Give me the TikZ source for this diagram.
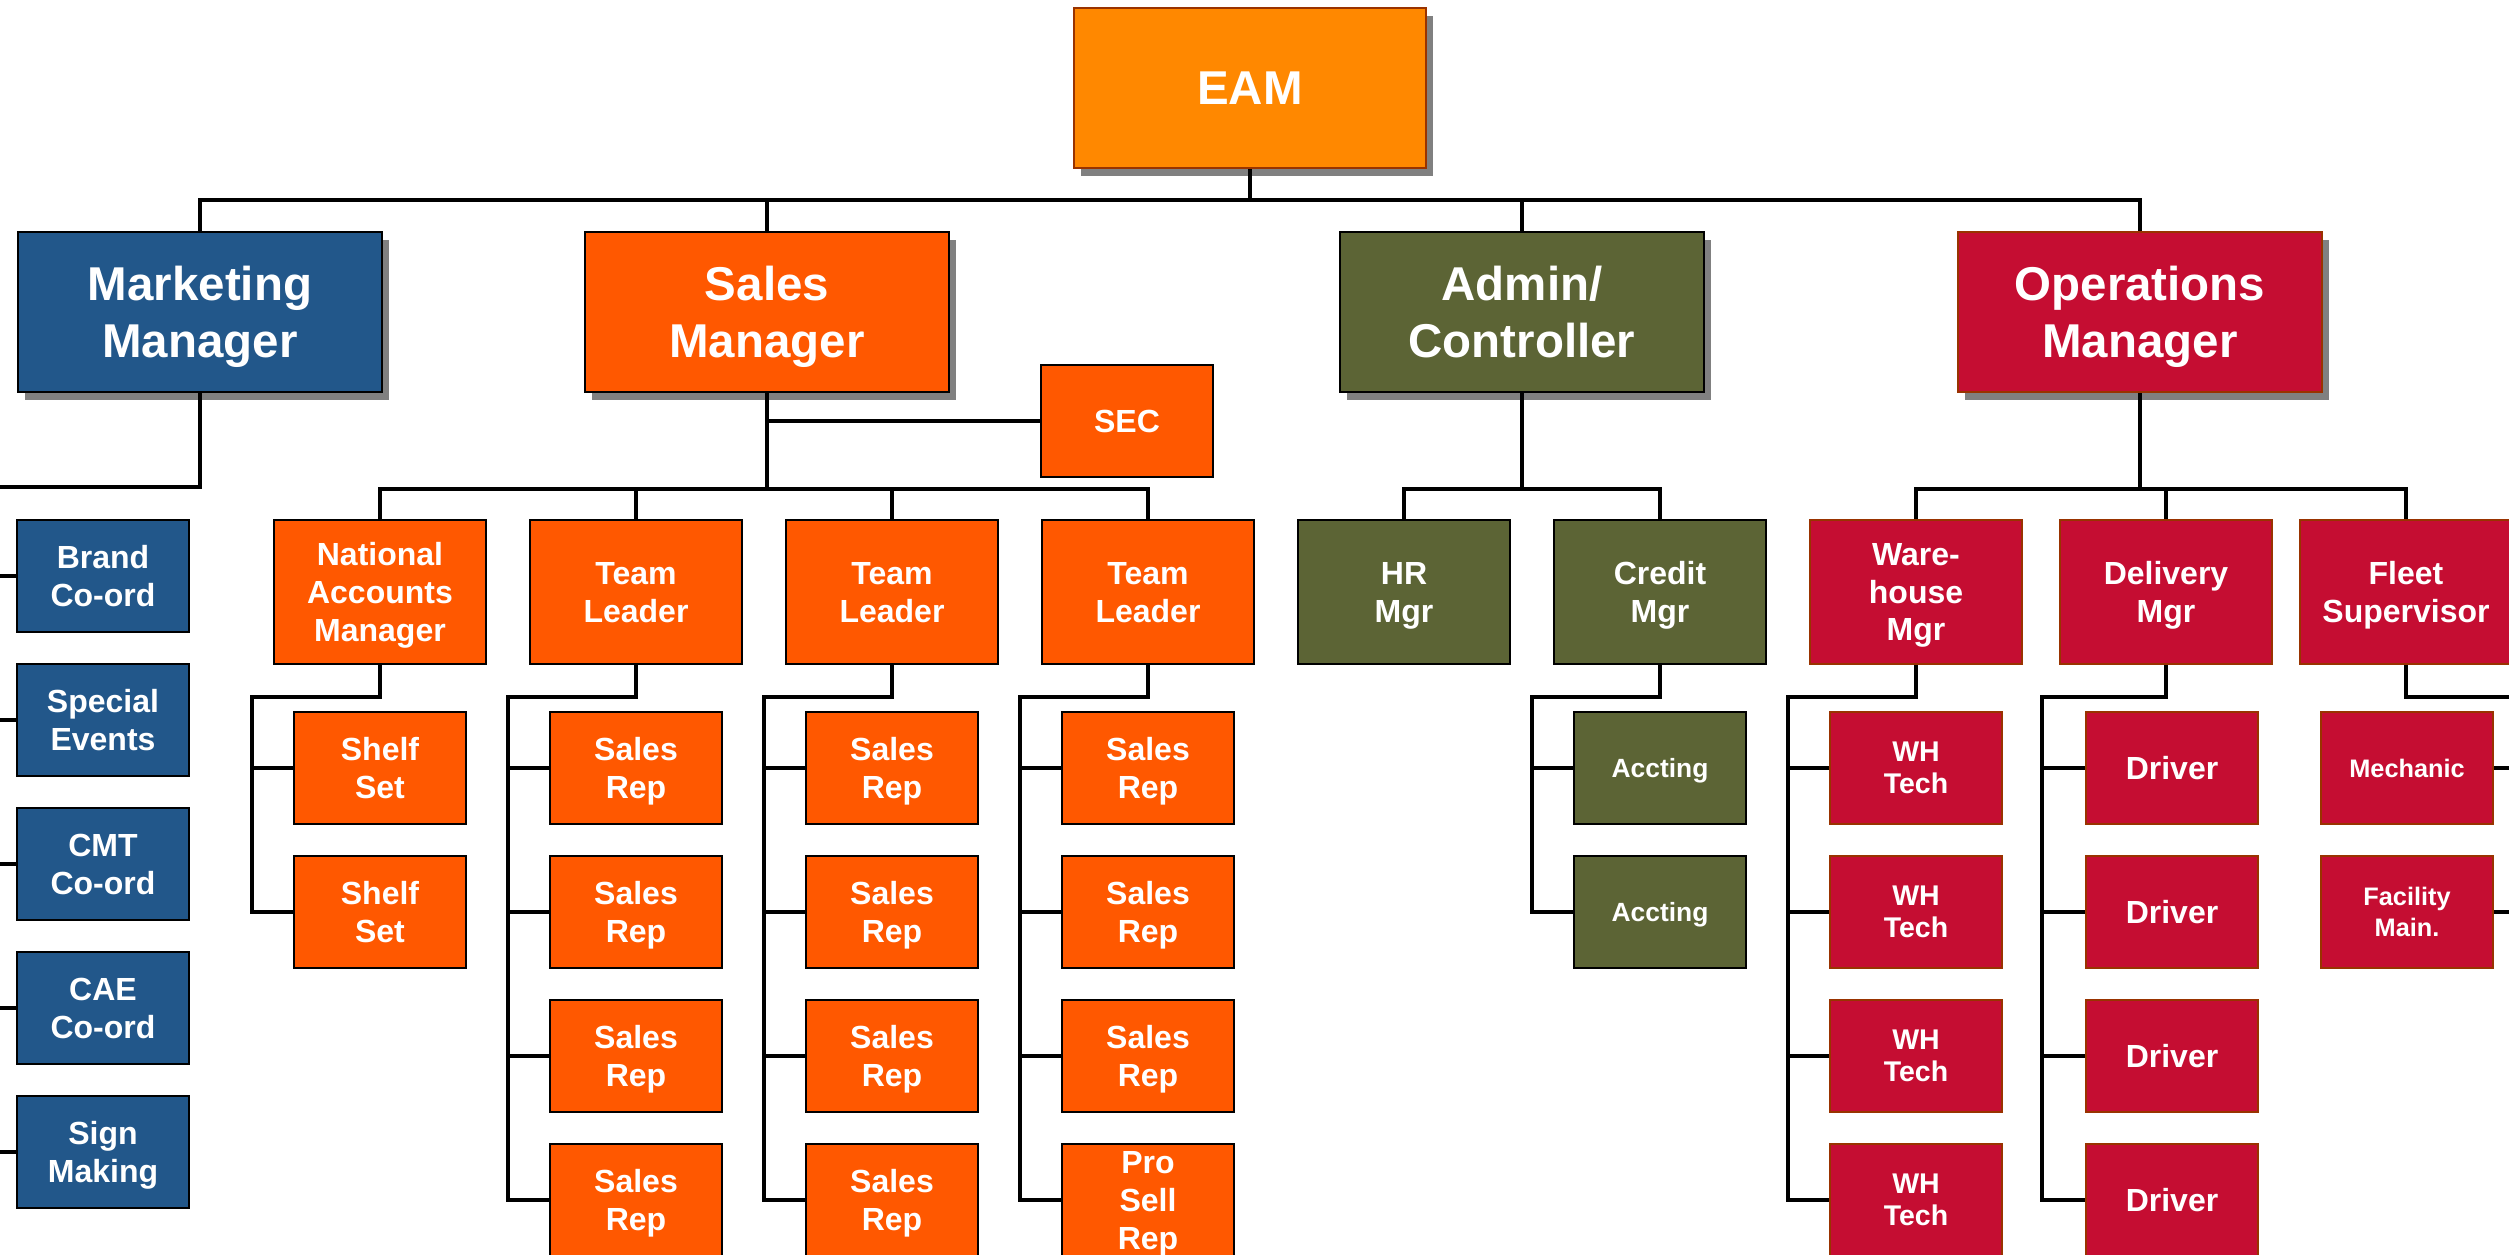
\documentclass[tikz,border=0pt]{standalone}
\usepackage{fontspec}
\setmainfont{Liberation Sans}
\usetikzlibrary{shadows}
\definecolor{eamorange}{HTML}{FF8800}
\definecolor{eamedge}{HTML}{993300}
\definecolor{mktblue}{HTML}{22578A}
\definecolor{salesorange}{HTML}{FF5800}
\definecolor{adminolive}{HTML}{5C6435}
\definecolor{opsred}{HTML}{C50D32}
\definecolor{shadowgray}{HTML}{808080}
\tikzset{
  box/.style={draw=black, line width=0.55pt, text=white, align=center, inner sep=0pt, text depth=0pt},
  topbox/.style={box, minimum width=3.52cm, minimum height=1.6cm,
    font=\fontsize{13.5}{16.2}\selectfont\bfseries,
    drop shadow={shadow xshift=0.07cm, shadow yshift=-0.08cm, fill=shadowgray, opacity=1}},
  headbox/.style={topbox, minimum width=3.63cm},
  midbox/.style={box, minimum width=2.12cm, minimum height=1.44cm, font=\fontsize{9.1}{10.8}\selectfont\bfseries},
  smallbox/.style={box, minimum width=1.72cm, minimum height=1.12cm, font=\fontsize{9.1}{10.8}\selectfont\bfseries},
  opsbox/.style={fill=opsred, draw=eamedge},
  link/.style={line width=0.95pt},
}

\begin{document}
\begin{tikzpicture}[x=0.01cm, y=-0.01cm]
    \useasboundingbox (0,0) rectangle (2509,1254);
    \clip (0,0) rectangle (2509,1254);
    % Top
    \node[topbox, fill=eamorange, draw=eamedge] (eam) at (1250,88) {EAM};
    % Managers
    \node[headbox, fill=mktblue] (mkt) at (200,312) {Marketing\\Manager};
    \node[headbox, fill=salesorange] (sales) at (767,312) {Sales\\Manager};
    \node[headbox, fill=adminolive] (admin) at (1522,312) {Admin/\\Controller};
    \node[headbox, opsbox] (ops) at (2140,312) {Operations\\Manager};
    \node[smallbox, fill=salesorange] (sec) at (1127,421) {SEC};
    % Second level
    \node[midbox, fill=salesorange] (nam) at (380,592) {National\\Accounts\\Manager};
    \node[midbox, fill=salesorange] (tl1) at (636,592) {Team\\Leader};
    \node[midbox, fill=salesorange] (tl2) at (892,592) {Team\\Leader};
    \node[midbox, fill=salesorange] (tl3) at (1148,592) {Team\\Leader};
    \node[midbox, fill=adminolive] (hr) at (1404,592) {HR\\Mgr};
    \node[midbox, fill=adminolive] (credit) at (1660,592) {Credit\\Mgr};
    \node[midbox, opsbox] (wh) at (1916,592) {Ware-\\house\\Mgr};
    \node[midbox, opsbox] (dlv) at (2166,592) {Delivery\\Mgr};
    \node[midbox, opsbox] (fleet) at (2406,592) {Fleet\\Supervisor};
    % Marketing staff
    \node[smallbox, fill=mktblue] (brand) at (103,576) {Brand\\Co-ord};
    \node[smallbox, fill=mktblue] (special) at (103,720) {Special\\Events};
    \node[smallbox, fill=mktblue] (cmt) at (103,864) {CMT\\Co-ord};
    \node[smallbox, fill=mktblue] (cae) at (103,1008) {CAE\\Co-ord};
    \node[smallbox, fill=mktblue] (sign) at (103,1152) {Sign\\Making};
    % Sales staff
    \node[smallbox, fill=salesorange] (shelf1) at (380,768) {Shelf\\Set};
    \node[smallbox, fill=salesorange] (shelf2) at (380,912) {Shelf\\Set};
    \foreach \c/\x in {a/636, b/892, c/1148}
      \foreach \i/\y in {1/768, 2/912, 3/1056}
        \node[smallbox, fill=salesorange] (rep\c\i) at (\x,\y) {Sales\\Rep};
    \node[smallbox, fill=salesorange] (repa4) at (636,1200) {Sales\\Rep};
    \node[smallbox, fill=salesorange] (repb4) at (892,1200) {Sales\\Rep};
    \node[smallbox, fill=salesorange] (repc4) at (1148,1200) {Pro\\Sell\\Rep};
    % Admin staff
    \node[smallbox, fill=adminolive, font=\fontsize{7.5}{8.8}\selectfont\bfseries] (acc1) at (1660,768) {Accting};
    \node[smallbox, fill=adminolive, font=\fontsize{7.5}{8.8}\selectfont\bfseries] (acc2) at (1660,912) {Accting};
    % Operations staff
    \foreach \i/\y in {1/768, 2/912, 3/1056, 4/1200} {
      \node[smallbox, opsbox, font=\fontsize{8.1}{9.1}\selectfont\bfseries] (wht\i) at (1916,\y) {WH\\Tech};
      \node[smallbox, opsbox] (drv\i) at (2172,\y) {Driver};
    }
    \node[smallbox, opsbox, font=\fontsize{7.2}{8.7}\selectfont\bfseries] (mech) at (2407,768) {Mechanic};
    \node[smallbox, opsbox, font=\fontsize{7.2}{8.7}\selectfont\bfseries] (facility) at (2407,912) {Facility\\Main.};

    % Connectors
    \coordinate (topbus) at (1250,200);
    \draw[link] (eam.south) -- (topbus);
    \draw[link] (mkt.north) |- (topbus) -| (ops.north);
    \draw[link] (sales.north) -- (sales.north |- topbus);
    \draw[link] (admin.north) -- (admin.north |- topbus);
    % Marketing
    \draw[link] (mkt.south) -- ++(0,94) -- ++(-240,0) coordinate (mktspine) |- (sign.west);
    \foreach \n in {brand, special, cmt, cae}
      \draw[link] (\n.west) -- (\n.west -| mktspine);
    % Sales
    \draw[link] (sales.south) -- ++(0,96) coordinate (salesbus);
    \draw[link] (sec.west) -- (sec.west -| salesbus);
    \draw[link] (nam.north) |- (salesbus) -| (tl3.north);
    \draw[link] (tl1.north) -- (tl1.north |- salesbus);
    \draw[link] (tl2.north) -- (tl2.north |- salesbus);
    \draw[link] (nam.south) -- ++(0,32) -- ++(-128,0) coordinate (namspine) |- (shelf2.west);
    \draw[link] (shelf1.west) -- (shelf1.west -| namspine);
    \foreach \p/\c in {tl1/a, tl2/b, tl3/c} {
      \draw[link] (\p.south) -- ++(0,32) -- ++(-128,0) coordinate (sp\c) |- (rep\c4.west);
      \foreach \i in {1,2,3}
        \draw[link] (rep\c\i.west) -- (rep\c\i.west -| sp\c);
    }
    % Admin
    \draw[link] (admin.south) -- ++(0,96) coordinate (adminbus);
    \draw[link] (hr.north) |- (adminbus) -| (credit.north);
    \draw[link] (credit.south) -- ++(0,32) -- ++(-128,0) coordinate (crspine) |- (acc2.west);
    \draw[link] (acc1.west) -- (acc1.west -| crspine);
    % Operations
    \draw[link] (ops.south) -- ++(0,96) coordinate (opsbus);
    \draw[link] (wh.north) |- (opsbus) -| (fleet.north);
    \draw[link] (dlv.north) -- (dlv.north |- opsbus);
    \draw[link] (wh.south) -- ++(0,32) -- ++(-128,0) coordinate (whspine) |- (wht4.west);
    \draw[link] (dlv.south) -- ++(0,32) -- ++(-124,0) coordinate (dlvspine) |- (drv4.west);
    \foreach \i in {1,2,3} {
      \draw[link] (wht\i.west) -- (wht\i.west -| whspine);
      \draw[link] (drv\i.west) -- (drv\i.west -| dlvspine);
    }
    \draw[link] (fleet.south) -- ++(0,32) -- ++(160,0) coordinate (flspine) |- (facility.east);
    \draw[link] (mech.east) -- (mech.east -| flspine);
\end{tikzpicture}
\end{document}
